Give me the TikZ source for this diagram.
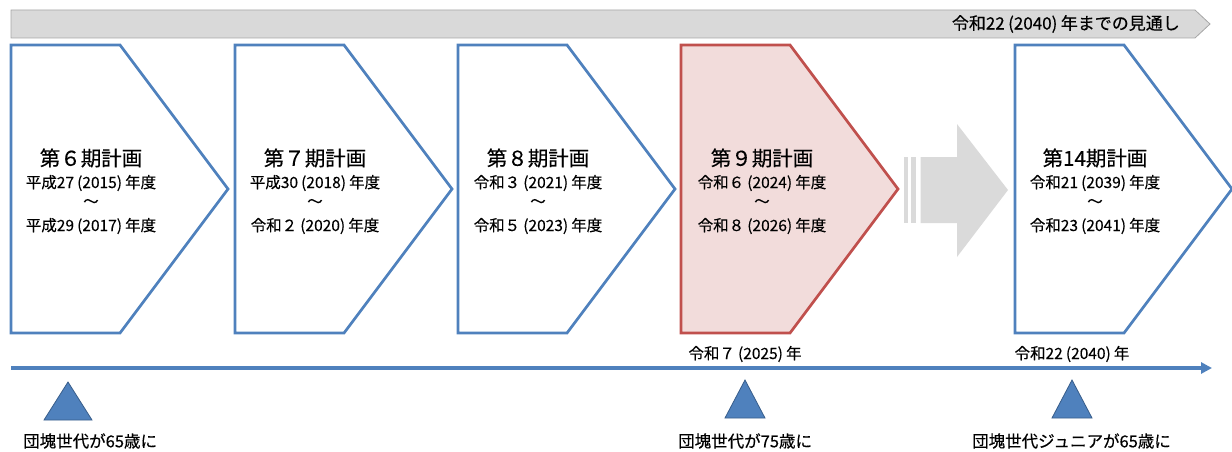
\documentclass[tikz,border=0pt]{standalone}
\usepackage{fontspec}
\setmainfont{Noto Sans CJK JP}[FakeBold=0.35]
\usetikzlibrary{arrows.meta}
\definecolor{pblue}{HTML}{4F81BD}
\definecolor{pbluedark}{HTML}{385D8A}
\definecolor{pred}{HTML}{C0504D}
\definecolor{predfill}{HTML}{F2DCDB}
\definecolor{bangray}{HTML}{D9D9D9}
\definecolor{banedge}{HTML}{A6A6A6}
\definecolor{bigarrow}{HTML}{DADADA}
\tikzset{
  planbox/.style={draw=pblue, line width=2.7pt, fill=white, line join=miter},
  planboxred/.style={draw=pred, line width=2.7pt, fill=predfill, line join=miter},
  titletext/.style={font=\fontsize{20.5}{22}\selectfont, inner sep=0pt, anchor=center},
  subtext/.style={font=\fontsize{15.5}{17}\selectfont, inner sep=0pt, anchor=center},
  labeltext/.style={font=\fontsize{15.5}{17}\selectfont, inner sep=0pt},
  bottomtext/.style={font=\fontsize{16.5}{18}\selectfont, inner sep=0pt, anchor=west},
  bannertext/.style={font=\fontsize{17}{19}\selectfont, inner sep=0pt, anchor=east},
  marker/.style={fill=pblue, draw=pbluedark, line width=0.8pt, line join=miter},
}
\newcommand{\planshape}[2]{%
  \draw[#2] (#1,45) -- ++(109,0) -- ++(108,144) -- ++(-108,144) -- (#1,333) -- cycle;}
\newcommand{\gp}{\hspace{0.2em}}
\begin{document}
\begin{tikzpicture}[x=1pt,y=-1pt]
\useasboundingbox (0,0) rectangle (1232,452);
% banner
\draw[fill=bangray, draw=banedge, line width=0.8pt] (11,10) -- (1195,10) -- (1210,24) -- (1195,38) -- (11,38) -- cycle;
\node[bannertext] (banner) at (1180,24) {令和22\gp(2040)\gp 年までの見通し};
% plan boxes
\planshape{11}{planbox}
\planshape{235}{planbox}
\planshape{458}{planbox}
\planshape{681}{planboxred}
\planshape{1015}{planbox}
% big gray arrow
\fill[bigarrow] (904,157) rectangle (907.5,223);
\fill[bigarrow] (911,157) rectangle (916,223);
\fill[bigarrow] (920.5,157) -- (957,157) -- (957,124) -- (1008,190) -- (957,257) -- (957,223) -- (920.5,223) -- cycle;
% texts
\node[titletext] (t6) at (91,158) {第６期計画};
\node[subtext] (s6a) at (91,183) {平成27\gp(2015)\gp 年度};
\node[subtext] (s6b) at (91,203) {～};
\node[subtext] (s6c) at (91,226) {平成29\gp(2017)\gp 年度};
\node[titletext] (t7) at (315,158) {第７期計画};
\node[subtext] (s7a) at (315,183) {平成30\gp(2018)\gp 年度};
\node[subtext] (s7b) at (315,203) {～};
\node[subtext] (s7c) at (315,226) {令和２\gp(2020)\gp 年度};
\node[titletext] (t8) at (538,158) {第８期計画};
\node[subtext] (s8a) at (538,183) {令和３\gp(2021)\gp 年度};
\node[subtext] (s8b) at (538,203) {～};
\node[subtext] (s8c) at (538,226) {令和５\gp(2023)\gp 年度};
\node[titletext] (t9) at (762,158) {第９期計画};
\node[subtext] (s9a) at (762,183) {令和６\gp(2024)\gp 年度};
\node[subtext] (s9b) at (762,203) {～};
\node[subtext] (s9c) at (762,226) {令和８\gp(2026)\gp 年度};
\node[titletext] (t14) at (1095,158) {第14期計画};
\node[subtext] (s14a) at (1095,183) {令和21\gp(2039)\gp 年度};
\node[subtext] (s14b) at (1095,203) {～};
\node[subtext] (s14c) at (1095,226) {令和23\gp(2041)\gp 年度};
% timeline
\node[labeltext] (y2025) at (745,354) {令和７\gp(2025)\gp 年};
\node[labeltext] (y2040) at (1072,354) {令和22\gp(2040)\gp 年};
\coordinate (tlstart) at (11,368);
\coordinate (tlend) at (1212,368);
\draw[pblue, line width=4pt, -{Triangle[length=11pt,width=11pt]}] (tlstart) -- (tlend);
% markers
\draw[marker] (68,382) -- (92,420) -- (44,420) -- cycle;
\draw[marker] (745,380) -- (765,418) -- (725,418) -- cycle;
\draw[marker] (1072,380) -- (1092,418) -- (1052,418) -- cycle;
\node[bottomtext] (m1) at (23,441) {団塊世代が65歳に};
\node[bottomtext] (m2) at (678,441) {団塊世代が75歳に};
\node[bottomtext] (m3) at (972,441) {団塊世代ジュニアが65歳に};
\end{tikzpicture}
\end{document}
